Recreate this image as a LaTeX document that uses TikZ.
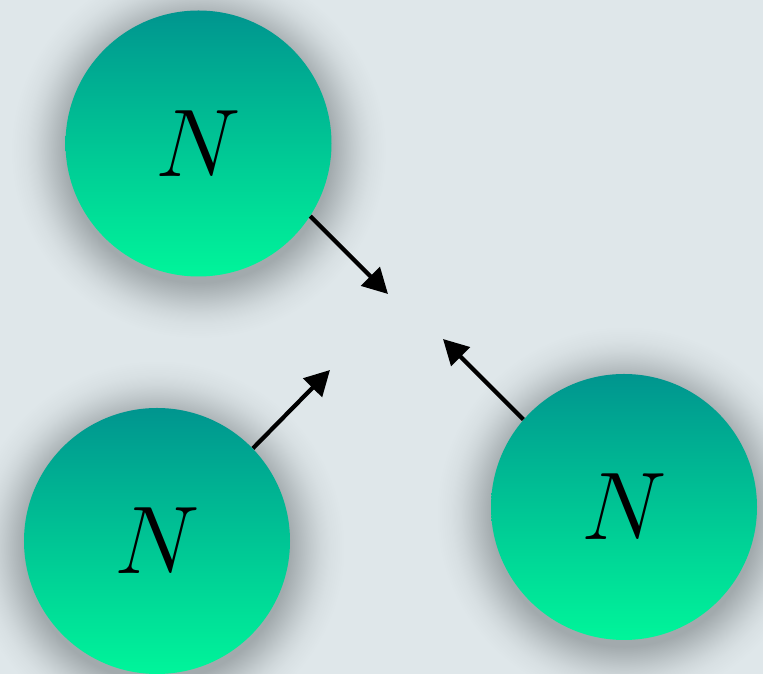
\documentclass[tikz,border=0pt]{standalone}
\usepackage{graphicx}
\usepackage{xcolor}
\usepackage{tikz}
\usetikzlibrary{arrows.meta, backgrounds}

\definecolor{bgcol}{HTML}{DFE7EA}
\definecolor{topteal}{HTML}{00958F}
\definecolor{botgreen}{HTML}{00F59A}
\definecolor{shA}{HTML}{A2AAAD}
\definecolor{shB}{HTML}{B2BABD}
\definecolor{shC}{HTML}{C2CACD}
\definecolor{shD}{HTML}{CFD7DA}
\definecolor{shE}{HTML}{D8E0E3}

% soft shadow round a ball: dark at the rim, background at the edge
\pgfdeclareradialshading{ballshadow}{\pgfpoint{0bp}{0bp}}{%
  color(0bp)=(shA); color(17.6bp)=(shA); color(19bp)=(shB);
  color(20.4bp)=(shC); color(21.7bp)=(shD); color(23bp)=(shE);
  color(25bp)=(bgcol); color(50bp)=(bgcol)}

\begin{document}
\begin{tikzpicture}[
  ball/.style={circle, minimum size=5.32cm, inner sep=0pt,
               top color=topteal, bottom color=botgreen, font=\Huge},
  halo/.style={shading=ballshadow},
  arrow/.style={-{Triangle[length=0.5cm, width=0.52cm]}, line width=2.4pt}
]
  \useasboundingbox (0,0) rectangle (15.26,13.48);
  \node[ball] (top)   at (3.97,10.61) {\scalebox{2.2}{$N$}};
  \node[ball] (left)  at (3.14,2.66)  {\scalebox{2.2}{$N$}};
  \node[ball] (right) at (12.48,3.34) {\scalebox{2.2}{$N$}};
  \begin{pgfonlayer}{background}
    \fill[bgcol] (0,0) rectangle (15.26,13.48);
    \foreach \b in {top,left,right}
      \shade[halo] ([yshift=-0.14cm]\b.center) circle (3.76cm);
  \end{pgfonlayer}
  \coordinate (tiptop)   at (7.76,7.60);
  \coordinate (tipleft)  at (6.60,6.08);
  \coordinate (tipright) at (8.86,6.70);
  \draw[arrow] (top.-33)   -- (tiptop);
  \draw[arrow] (left.44)   -- (tipleft);
  \draw[arrow] (right.139) -- (tipright);
\end{tikzpicture}
\end{document}
